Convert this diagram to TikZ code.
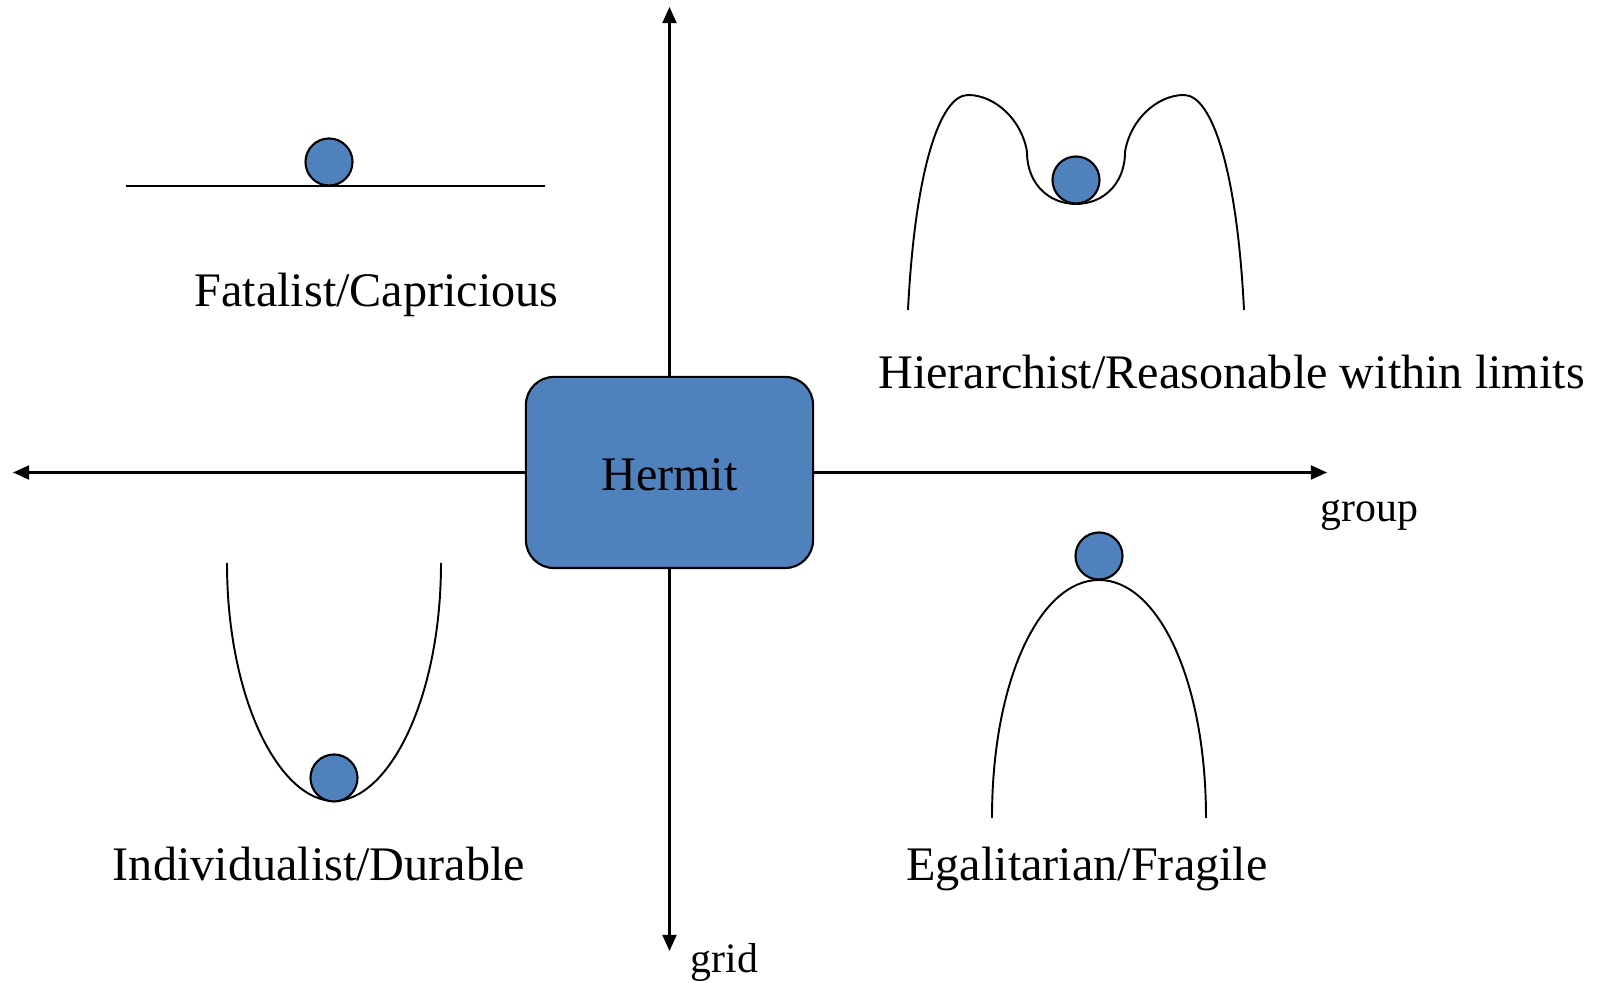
\documentclass[tikz,border=0pt]{standalone}
\usepackage{fontspec}
\setmainfont{Liberation Serif}
\usepackage{tikz}
\usetikzlibrary{arrows.meta,calc}
\definecolor{hermitblue}{HTML}{4F81BD}
\tikzset{
  axis/.style={line width=0.6pt, -{Triangle[length=4.6pt,width=4pt]}},
  ball/.style={circle, draw=black, line width=0.6pt, fill=hermitblue, minimum size=0.47cm, inner sep=0pt},
  well/.style={line width=0.55pt},
  typelabel/.style={anchor=base, inner sep=0pt, font=\fontsize{13.7}{16}\selectfont},
  axislabel/.style={anchor=base west, inner sep=0pt, font=\fontsize{11.9}{14}\selectfont}
}

\begin{document}
\begin{tikzpicture}[x=0.01cm,y=-0.01cm]
\useasboundingbox (0,0) rectangle (1599,983);

% centre box and the two axes
\node [draw=black, line width=0.6pt, fill=hermitblue, rounded corners=0.28cm,
  minimum width=2.87cm, minimum height=1.91cm, text height=0.36cm, text depth=0pt,
  font=\fontsize{13.7}{16}\selectfont]
  (hermit) at (669.5,472.5) {Hermit};
\coordinate (top) at (669.5,7);
\coordinate (bottom) at (669.5,951);
\coordinate (left) at (13,472.5);
\coordinate (right) at (1327,472.5);
\draw [axis] (hermit) -- (top);
\draw [axis] (hermit) -- (bottom);
\draw [axis] (hermit) -- (left);
\draw [axis] (hermit) -- (right);
\node [axislabel] (group) at (1320,522) {group};
\node [axislabel] (grid) at (690,973) {grid};

% fatalist: flat
\draw [well] (126,186) -- (545,186);
\node [ball] (fatball) at (329,162) {};
\node [typelabel] (fatalist) at (376.5,307) {Fatalist/Capricious};

% hierarchist: well between two peaks
\draw [well] (908,310) .. controls (915,170) and (940,95) .. (968,95)
  .. controls (995,95) and (1022,120) .. (1027,152)
  .. controls (1027,185) and (1050,204) .. (1076,204)
  .. controls (1102,204) and (1125,185) .. (1125,152)
  .. controls (1130,120) and (1157,95) .. (1184,95)
  .. controls (1212,95) and (1237,170) .. (1244,310);
\node [ball] (hierball) at (1076,180) {};
\node [typelabel] (hierarchist) at (1231.5,389) {Hierarchist/Reasonable within limits};

% individualist: valley
\draw [well] (227,563) .. controls (227,700) and (280,801) .. (334,801)
  .. controls (388,801) and (441,700) .. (441,563);
\node [ball] (indball) at (334,778) {};
\node [typelabel] (individualist) at (319,881) {Individualist/Durable};

% egalitarian: hill
\draw [well] (992,818) .. controls (992,680) and (1040,580) .. (1099,580)
  .. controls (1158,580) and (1206,680) .. (1206,818);
\node [ball] (egalball) at (1099,556) {};
\node [typelabel] (egalitarian) at (1087,881) {Egalitarian/Fragile};
\end{tikzpicture}
\end{document}
